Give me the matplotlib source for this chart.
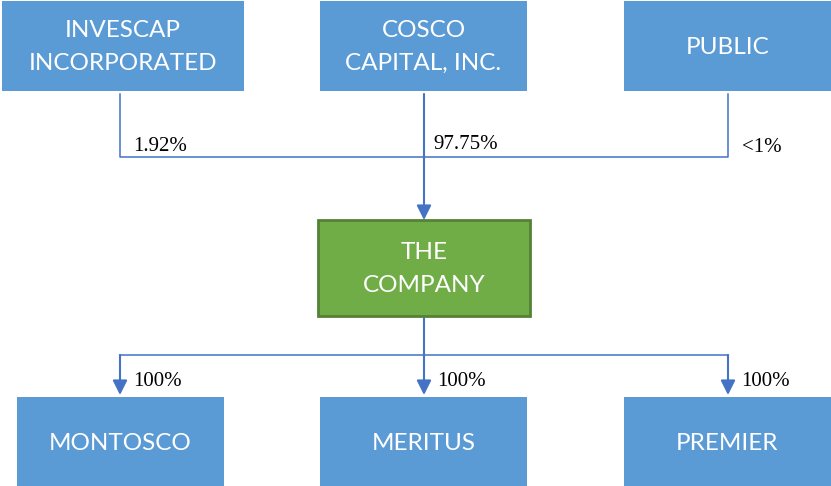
import matplotlib.pyplot as plt
import matplotlib.patches as patches

# Chart content
owners = ["INVESCAP\nINCORPORATED", "COSCO\nCAPITAL, INC.", "PUBLIC"]
owner_pcts = ["1.92%", "97.75%", "<1%"]
company = "THE\nCOMPANY"
subsidiaries = ["MONTOSCO", "MERITUS", "PREMIER"]
subsidiary_pcts = ["100%", "100%", "100%"]

# Layout (pixels, y grows downward)
W, H = 831, 486
top_boxes = [(2, 1, 242, 90), (320, 1, 207, 90), (624, 1, 207, 90)]
mid_box = (318, 220, 212, 96)
bot_boxes = [(17, 397, 207, 93), (320, 397, 207, 93), (624, 397, 207, 93)]
conn_x = [120, 424, 728]
top_bus_y = 157
bot_bus_y = 355

blue = '#5B9BD5'
green = '#70AD47'
green_edge = '#548235'
line_col = '#4472C4'
box_font = 'Lato'
pct_font = 'Liberation Serif'

fig = plt.figure(figsize=(W / 100, H / 100), dpi=100)
ax = fig.add_axes([0, 0, 1, 1])
ax.set_xlim(0, W)
ax.set_ylim(H, 0)
ax.axis('off')


def box(rect, label, fc, ec=None, lw=0, dy=0):
    x, y, w, h = rect
    ax.add_patch(patches.Rectangle((x, y), w, h, facecolor=fc,
                                   edgecolor=ec if ec else fc, linewidth=lw, zorder=2))
    ax.text(x + w / 2, y + h / 2 + dy, label, ha='center', va='center', color='white',
            fontsize=17.5, family=box_font, linespacing=1.65, zorder=3)


def arrow(x, y0, y1):
    ax.annotate('', xy=(x, y1), xytext=(x, y0),
                arrowprops=dict(arrowstyle='-|>', color=line_col, lw=1.5,
                                mutation_scale=22, shrinkA=0, shrinkB=0), zorder=4)


for rect, name in zip(top_boxes, owners):
    box(rect, name, blue, dy=1)
box(mid_box, company, green, green_edge, 2, dy=1)
for rect, name in zip(bot_boxes, subsidiaries):
    box(rect, name, blue)

# Owners -> company
ax.plot([conn_x[0], conn_x[0], conn_x[2], conn_x[2]],
        [94, top_bus_y, top_bus_y, 94], color=line_col, lw=1.1, zorder=1)
arrow(conn_x[1], 94, mid_box[1])
pct_offsets = [(13, -11), (9, -13), (14, -10)]
for x, pct, (dx, dy) in zip(conn_x, owner_pcts, pct_offsets):
    ax.text(x + dx, top_bus_y + dy, pct, ha='left', va='center', fontsize=15,
            family=pct_font, color='black')

# Company -> subsidiaries
ax.plot([conn_x[1], conn_x[1]], [mid_box[1] + mid_box[3], bot_bus_y],
        color=line_col, lw=1.5, zorder=1)
ax.plot([conn_x[0], conn_x[2]], [bot_bus_y, bot_bus_y], color=line_col, lw=1.1, zorder=1)
for x, pct in zip(conn_x, subsidiary_pcts):
    arrow(x, bot_bus_y, 395)
    ax.text(x + 13, 381, pct, ha='left', va='center', fontsize=15,
            family=pct_font, color='black')

fig.savefig('out.png', dpi=100)
